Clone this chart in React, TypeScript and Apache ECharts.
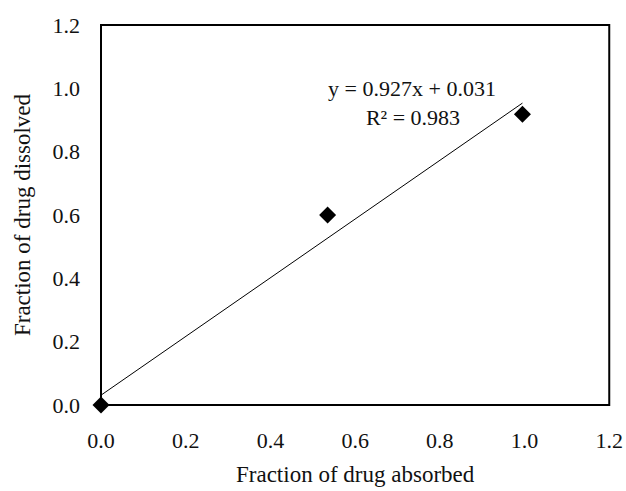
import React, { useEffect, useRef } from "react";
import * as echarts from "echarts";

const absorbed = [0, 0.535, 0.995];
const dissolved = [0, 0.6, 0.918];
const slope = 0.927;
const intercept = 0.031;
const trendX = [0, 0.995];
const axisTicks = [0, 0.2, 0.4, 0.6, 0.8, 1.0, 1.2];
const equationText = "y = 0.927x + 0.031";
const r2Text = "R\u00B2 = 0.983";
const xTitle = "Fraction of drug absorbed";
const yTitle = "Fraction of drug dissolved";

export default function App() {
  const ref = useRef<HTMLDivElement>(null);
  useEffect(() => {
    document.body.style.margin = "0";
    const chart = echarts.init(ref.current!, null, { renderer: "svg" });
    const font = "Liberation Serif";
    const fs = 22;
    const tfs = 23;
    const points = absorbed.map((x, i) => [x, dissolved[i]]);
    const trend = trendX.map((x) => [x, slope * x + intercept]);
    chart.setOption({
      animation: false,
      backgroundColor: "#ffffff",
      grid: {
        left: 101,
        top: 25,
        right: 15,
        bottom: 81,
        show: true,
        borderColor: "#000",
        borderWidth: 2,
        backgroundColor: "transparent",
      },
      xAxis: {
        type: "value",
        min: axisTicks[0],
        max: axisTicks[axisTicks.length - 1],
        interval: 0.2,
        splitLine: { show: false },
        axisLine: { show: false },
        axisTick: { show: false },
        axisLabel: {
          margin: 24,
          color: "#111",
          fontFamily: font,
          fontSize: fs,
          formatter: (v: number) => v.toFixed(1),
        },
        name: xTitle,
        nameLocation: "middle",
        nameGap: 58,
        nameTextStyle: { color: "#111", fontFamily: font, fontSize: tfs },
      },
      yAxis: {
        type: "value",
        min: axisTicks[0],
        max: axisTicks[axisTicks.length - 1],
        interval: 0.2,
        splitLine: { show: false },
        axisLine: { show: false },
        axisTick: { show: false },
        axisLabel: {
          margin: 21,
          color: "#111",
          fontFamily: font,
          fontSize: fs,
          formatter: (v: number) => v.toFixed(1),
        },
        name: yTitle,
        nameLocation: "middle",
        nameGap: 67,
        nameRotate: 90,
        nameTextStyle: { color: "#111", fontFamily: font, fontSize: tfs },
      },
      series: [
        {
          type: "line",
          data: trend,
          symbol: "none",
          lineStyle: { color: "#000", width: 1 },
          z: 2,
        },
        {
          type: "scatter",
          data: points,
          symbol: "diamond",
          symbolSize: 17,
          itemStyle: { color: "#000", opacity: 1 },
          z: 3,
        },
      ],
      graphic: [
        {
          type: "text",
          x: 412,
          y: 88,
          style: {
            text: equationText,
            fontFamily: font,
            fontSize: fs,
            fill: "#111",
            align: "center",
            verticalAlign: "middle",
          },
        },
        {
          type: "text",
          x: 413,
          y: 117,
          style: {
            text: r2Text,
            fontFamily: font,
            fontSize: fs,
            fill: "#111",
            align: "center",
            verticalAlign: "middle",
          },
        },
      ],
    });
    return () => chart.dispose();
  }, []);
  return <div ref={ref} style={{ width: 626, height: 491 }} />;
}
